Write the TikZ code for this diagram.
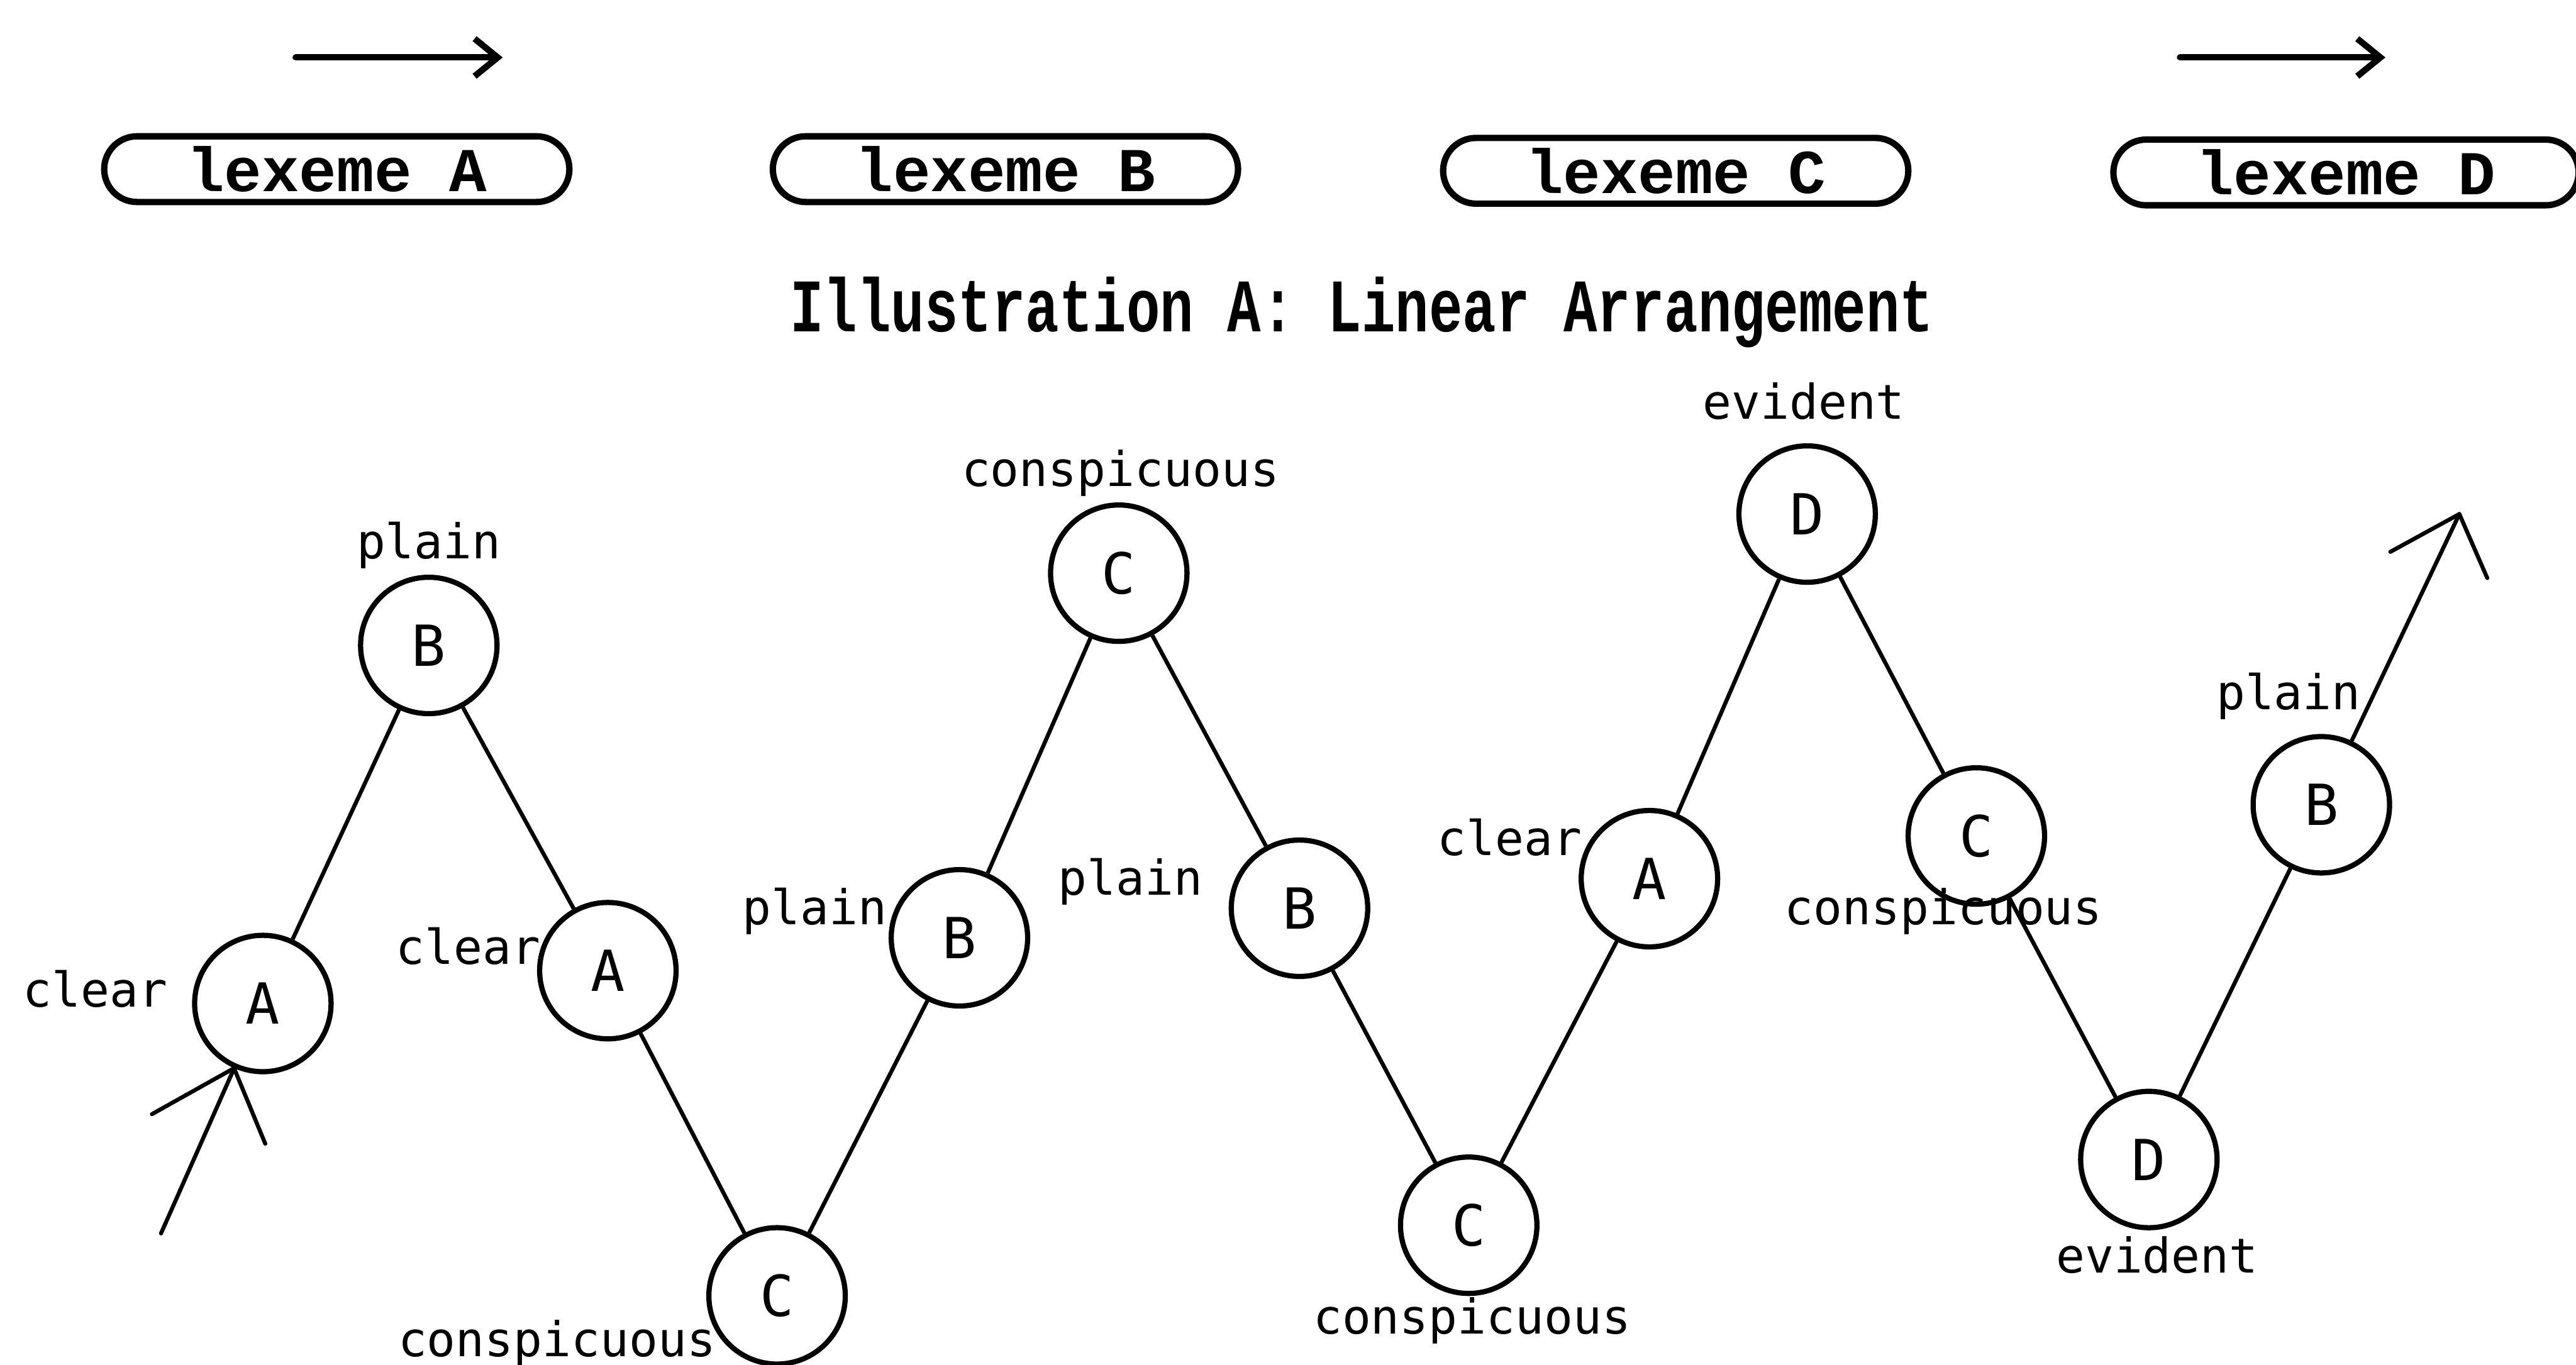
\documentclass[tikz,border=0pt]{standalone}
\usepackage{fontspec}
\newfontfamily\lexfont{Liberation Mono}
\newfontfamily\labfont{DejaVu Sans Mono}
\usetikzlibrary{arrows.meta}
\begin{document}
\begin{tikzpicture}[x=0.01cm,y=-0.01cm,
  lexbox/.style={draw,line width=1.1pt,rounded corners=0.2cm,minimum width=2.83cm,
    minimum height=0.4cm,inner sep=0pt,
    font=\lexfont\bfseries\fontsize{10.8}{12}\selectfont},
  heading/.style={inner sep=0pt,font=\lexfont\bfseries\fontsize{9.7}{11}\selectfont},
  vtx/.style={draw,circle,line width=0.9pt,minimum size=0.83cm,inner sep=0pt,
    font=\labfont\fontsize{9.8}{11}\selectfont},
  lab/.style={anchor=base,inner sep=0pt,font=\labfont\fontsize{8.3}{10}\selectfont},
  conn/.style={line width=0.7pt},
  topar/.style={line width=1.1pt,line cap=round,-{Straight Barb[length=4pt,width=6.5pt,line width=1.1pt]}}]
\useasboundingbox (0,0) rectangle (1568,831);

% direction arrows above the lexemes
\coordinate (t1s) at (180,35);
\coordinate (t1e) at (306,35);
\coordinate (t2s) at (1327,35);
\coordinate (t2e) at (1452,35);
\draw[topar] (t1s) -- (t1e);
\draw[topar] (t2s) -- (t2e);

% lexeme boxes
\node[lexbox] (lexA) at (205,103) {lexeme A};
\node[lexbox] (lexB) at (612,103) {lexeme B};
\node[lexbox] (lexC) at (1020,104) {lexeme C};
\node[lexbox] (lexD) at (1428,105) {lexeme D};

% heading
\node[heading] (ttl) at (829,190) {\scalebox{1}[1.35]{Illustration A: Linear Arrangement}};

% zigzag of lexemes
\node[vtx] (A1) at (160,611) {A};
\node[vtx] (B1) at (261,393) {B};
\node[vtx] (A2) at (370,591) {A};
\node[vtx] (C1) at (473,789) {C};
\node[vtx] (B2) at (584,571) {B};
\node[vtx] (C2) at (681,349) {C};
\node[vtx] (B3) at (791,553) {B};
\node[vtx] (C3) at (894,746) {C};
\node[vtx] (A3) at (1004,535) {A};
\node[vtx] (D1) at (1100,313) {D};
\node[vtx] (C4) at (1203,509) {C};
\node[vtx] (D2) at (1308,706) {D};
\node[vtx] (B4) at (1413,490) {B};

% word labels
\node[lab] (lA1) at (58,613) {clear};
\node[lab] (lB1) at (261,340) {plain};
\node[lab] (lA2) at (285,587) {clear};
\node[lab] (lC1) at (339,826) {conspicuous};
\node[lab] (lB2) at (496,563) {plain};
\node[lab] (lC2) at (682,296) {conspicuous};
\node[lab] (lB3) at (688,545) {plain};
\node[lab] (lC3) at (896,812) {conspicuous};
\node[lab] (lA3) at (919,521) {clear};
\node[lab] (lD1) at (1098,255) {evident};
\node[lab] (lC4) at (1183,563) {conspicuous};
\node[lab] (lD2) at (1313,775) {evident};
\node[lab] (lB4) at (1393,432) {plain};

% connectors
\draw[conn] (A1) -- (B1) -- (A2) -- (C1) -- (B2) -- (C2) -- (B3) -- (C3)
  -- (A3) -- (D1) -- (C4) -- (D2) -- (B4);

% entry arrow
\coordinate (s0) at (98,751);
\draw[conn,line cap=round] (s0) -- (A1);
\draw[conn,line cap=round] (A1.-114) -- ++(-50,28);
\draw[conn,line cap=round] (A1.-114) -- ++(19,46);

% exit arrow
\coordinate (e0) at (1497,313);
\draw[conn,line cap=round] (B4) -- (e0);
\draw[conn,line cap=round] (e0) -- ++(-42,23);
\draw[conn,line cap=round] (e0) -- ++(17,39);
\end{tikzpicture}
\end{document}
